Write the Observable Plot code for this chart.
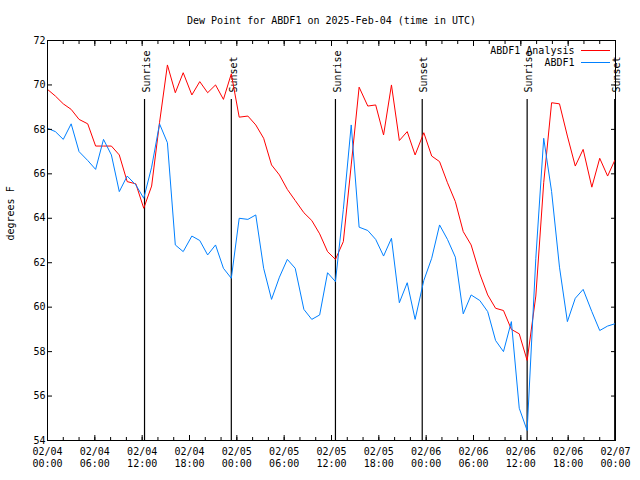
<!DOCTYPE html>
<html><head><meta charset="utf-8">
<script src="https://cdn.jsdelivr.net/npm/d3@7"></script>
<script src="https://cdn.jsdelivr.net/npm/@observablehq/plot@0.6"></script>
<style>
body{margin:0;background:#fff}
svg{display:block}
</style>
</head><body><div id="chart"></div>
<script>
const title = "Dew Point for ABDF1 on 2025-Feb-04 (time in UTC)";
const yLabel = "degrees F";
const seriesNames = ["ABDF1 Analysis", "ABDF1"];
const seriesColors = ["#ff0000", "#0080ff"];
const startMs = Date.UTC(2025, 1, 4, 0, 0);

// hours since 2025-02-04 00:00 UTC
const hours = [0,1,2,3,4,5.1,6.1,7.1,8.1,9.1,10.1,11.2,12.2,13.2,14.2,15.2,16.2,17.2,18.3,19.3,20.3,21.3,22.3,23.3,24.3,25.4,26.4,27.4,28.4,29.4,30.4,31.4,32.5,33.5,34.5,35.5,36.5,37.5,38.5,39.5,40.6,41.6,42.6,43.6,44.6,45.6,46.6,47.7,48.7,49.7,50.7,51.7,52.7,53.7,54.8,55.8,56.8,57.8,58.8,59.8,60.8,61.9,62.9,63.9,64.9,65.9,66.9,67.9,69.0,70.0,71.0,71.9];

const analysis = [69.8,69.5,69.15,68.9,68.45,68.25,67.25,67.25,67.25,66.85,65.65,65.55,64.45,65.45,68.3,70.9,69.65,70.55,69.55,70.15,69.65,70.0,69.35,70.5,68.55,68.6,68.2,67.6,66.4,65.95,65.3,64.8,64.25,63.9,63.3,62.5,62.15,62.95,66.4,69.9,69.05,69.1,67.75,70.0,67.5,67.9,66.85,67.85,66.8,66.55,65.6,64.75,63.4,62.8,61.5,60.55,59.95,59.85,59.0,58.8,57.6,60.5,65.6,69.2,69.15,67.7,66.35,67.1,65.4,66.7,65.9,66.6];

const observed = [68.05,67.9,67.55,68.25,67.0,66.6,66.2,67.55,66.85,65.2,65.9,65.5,64.9,66.3,68.25,67.4,62.8,62.5,63.2,63.0,62.35,62.8,61.75,61.3,64.0,63.95,64.15,61.75,60.35,61.35,62.15,61.75,59.9,59.45,59.65,61.55,61.15,64.4,68.2,63.6,63.45,63.05,62.3,63.1,60.2,61.1,59.45,61.2,62.2,63.7,63.05,62.25,59.7,60.55,60.3,59.8,58.5,58.0,59.35,55.45,54.45,62.2,67.6,65.2,61.8,59.35,60.4,60.8,59.8,58.95,59.15,59.25];

const eventNames = ["Sunrise","Sunset","Sunrise","Sunset","Sunrise","Sunset"];
const eventHours = [12.3,23.3,36.5,47.5,60.8,71.9];

const yTicks = [54,56,58,60,62,64,66,68,70,72];
const xMajorHours = [0,6,12,18,24,30,36,42,48,54,60,66,72];
const xMinorHours = [0,2,4,6,8,10,12,14,16,18,20,22,24,26,28,30,32,34,36,38,40,42,44,46,48,50,52,54,56,58,60,62,64,66,68,70,72];

const toDate = h => new Date(startMs + h * 3600e3);
const rows = [];
hours.forEach((h, i) => rows.push({time: toDate(h), value: analysis[i], series: seriesNames[0]}));
hours.forEach((h, i) => rows.push({time: toDate(h), value: observed[i], series: seriesNames[1]}));
const events = eventNames.map((n, i) => ({name: n, time: toDate(eventHours[i])}));
const majorTicks = xMajorHours.map(toDate);
const minorTicks = xMinorHours.map(toDate);
const fmt = d3.utcFormat("%m/%d\n%H:%M");

const font = "DejaVu Sans Mono";
const chart = Plot.plot({
  width: 640, height: 480,
  marginLeft: 47, marginRight: 25, marginTop: 40, marginBottom: 40,
  style: {fontFamily: font, fontSize: "10px", background: "#fff", color: "#000"},
  x: {type: "utc", domain: [toDate(0), toDate(72)]},
  y: {domain: [54, 72]},
  color: {domain: seriesNames, range: seriesColors},
  marks: [
    Plot.ruleX(events, {x: "time", insetTop: 59, stroke: "#000", strokeWidth: 1.2}),
    Plot.text(events, {x: "time", text: "name", frameAnchor: "top", dy: 52, dx: 2, rotate: -90, textAnchor: "start", lineAnchor: "middle", fill: "#000"}),
    Plot.line(rows, {x: "time", y: "value", stroke: "series", strokeWidth: 1, curve: "linear"}),
    Plot.frame({stroke: "#000"}),
    Plot.axisY(yTicks, {anchor: "left", tickSize: -5, tickPadding: 7, label: null}),
    Plot.axisY(yTicks, {anchor: "right", tickSize: -5, tickFormat: () => "", label: null}),
    Plot.axisX(majorTicks, {anchor: "bottom", tickSize: -5, tickPadding: 11, tickFormat: fmt, lineHeight: 1.2, label: null}),
    Plot.axisX(minorTicks, {anchor: "bottom", tickSize: -3, tickFormat: () => "", label: null}),
    Plot.axisX(majorTicks, {anchor: "top", tickSize: -5, tickFormat: () => "", label: null}),
    Plot.axisX(minorTicks, {anchor: "top", tickSize: -3, tickFormat: () => "", label: null}),
    Plot.text([title], {frameAnchor: "top", dy: -20, lineAnchor: "middle", fill: "#000"}),
    Plot.text([yLabel], {frameAnchor: "left", dx: -37, rotate: -90, lineAnchor: "middle", fill: "#000"}),
    Plot.text([seriesNames[0]], {frameAnchor: "top-right", dx: -41, dy: 10, textAnchor: "end", lineAnchor: "middle", fill: "#000"}),
    Plot.text([seriesNames[1]], {frameAnchor: "top-right", dx: -41, dy: 22, textAnchor: "end", lineAnchor: "middle", fill: "#000"})
  ]
});
// legend swatches
const svg = d3.select(chart);
[[50.5, seriesColors[0]], [62.5, seriesColors[1]]].forEach(([y, c]) => {
  svg.append("line").attr("x1", 581).attr("x2", 610).attr("y1", y).attr("y2", y)
    .attr("stroke", c).attr("stroke-width", 1);
});
document.getElementById("chart").appendChild(chart);
</script>
</body></html>
